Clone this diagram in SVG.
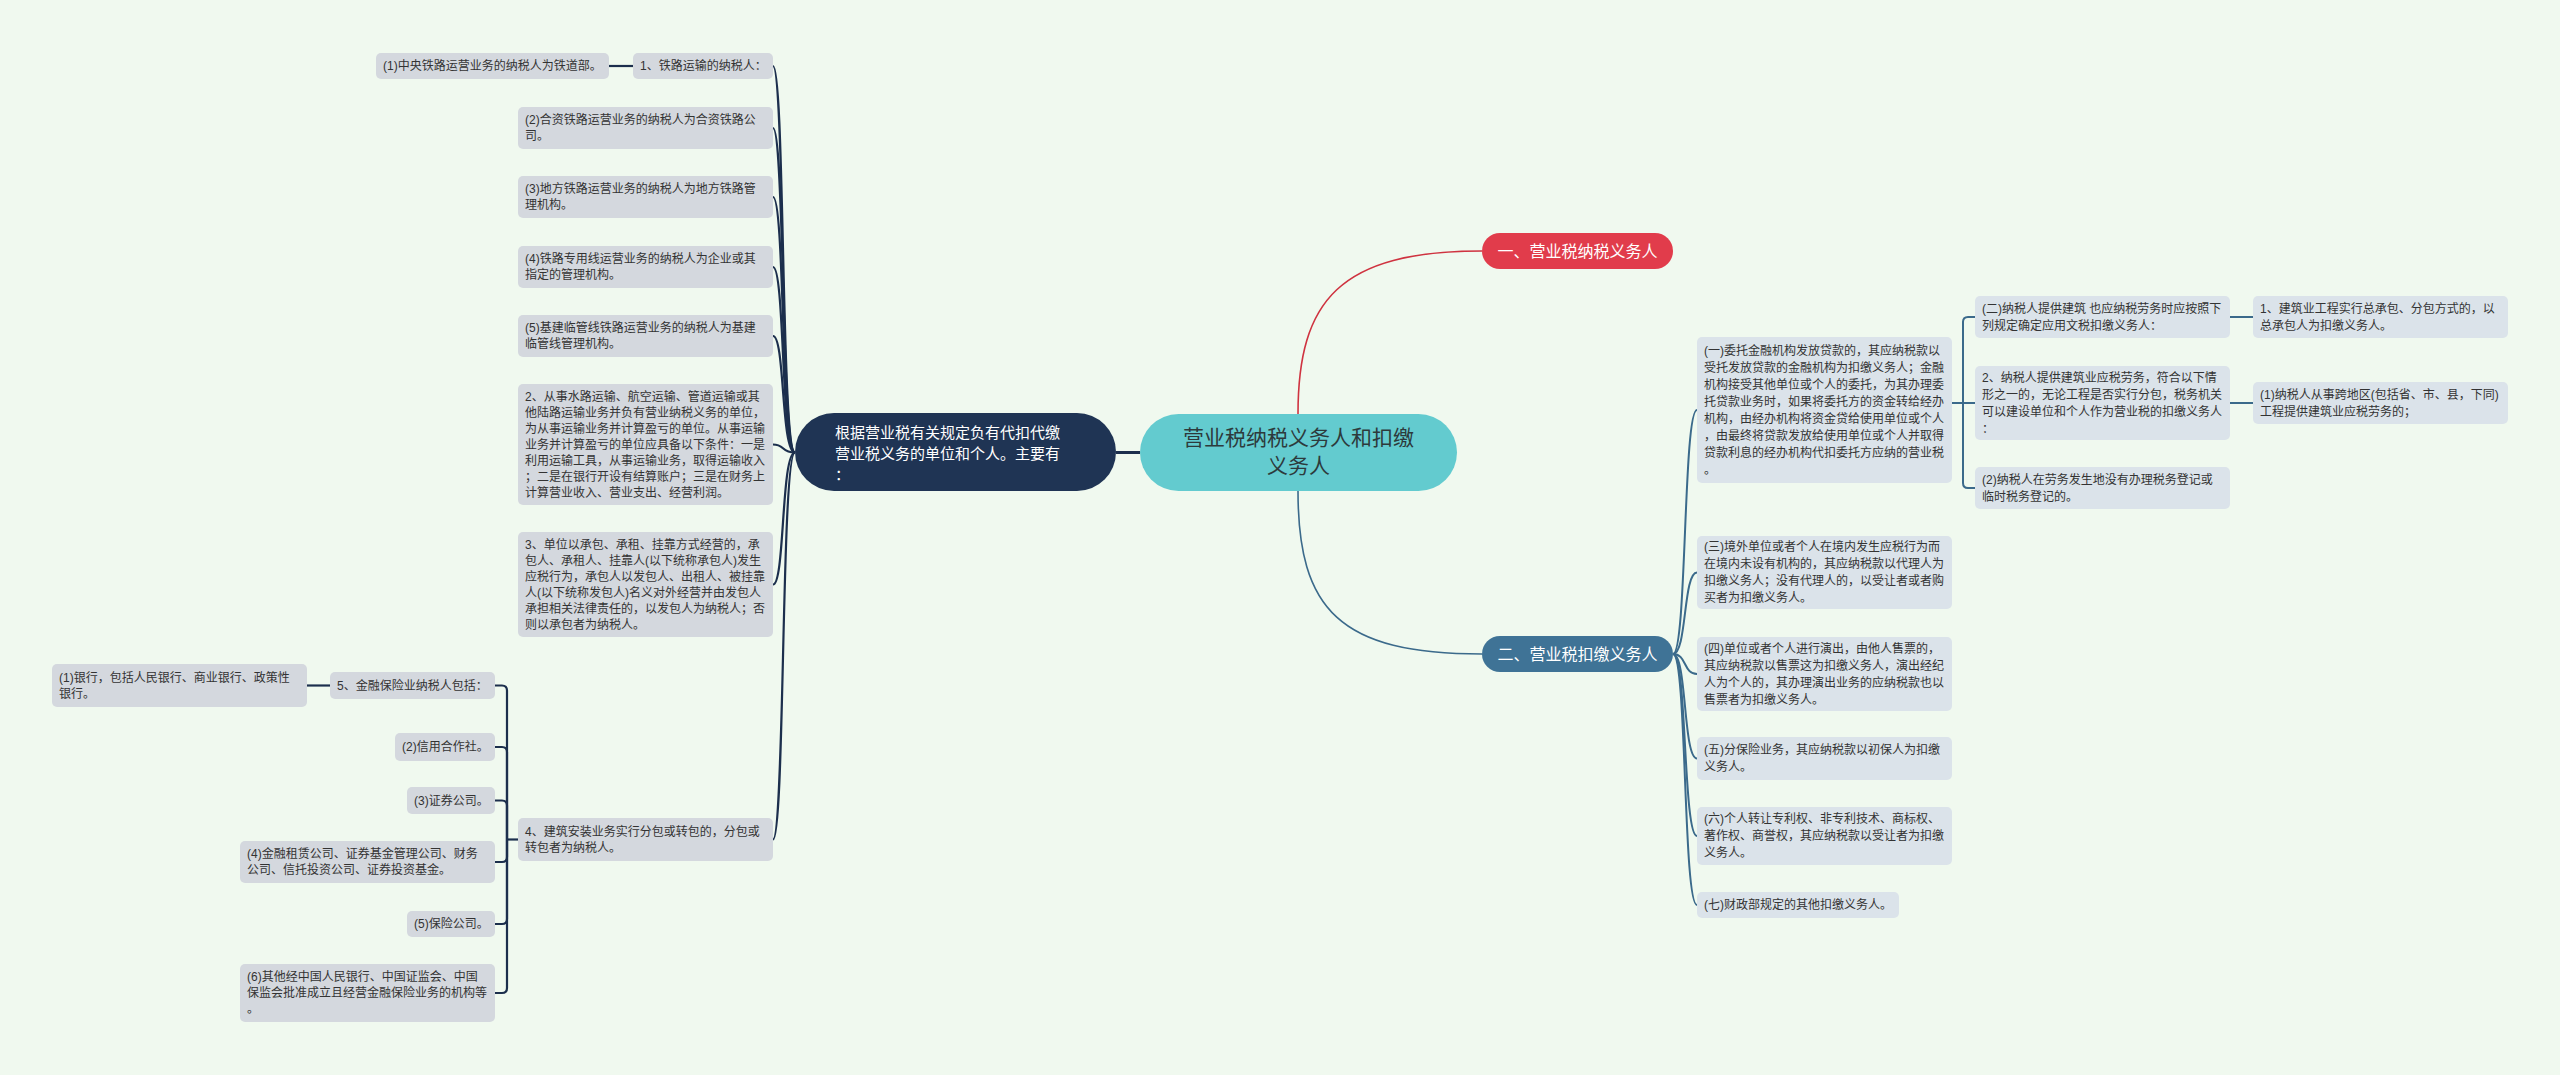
<svg xmlns="http://www.w3.org/2000/svg" width="2560" height="1075" viewBox="0 0 2560 1075">
<style>
text{font-family:"Liberation Sans","Noto Sans CJK SC",sans-serif;}
.t{font-size:12px;fill:#333333;}
.lb{fill:#d4d8de;}
.rb{fill:#dbe3ea;}
.cl{fill:none;stroke:#1c2f4d;stroke-width:2.2;}
.cb{fill:none;stroke:#3b6a8b;stroke-width:2;}
.dark{font-size:15px;fill:#ffffff;}
.lvl1{font-size:16px;fill:#ffffff;text-anchor:middle;}
.root{font-size:21px;fill:#2d3a3c;text-anchor:middle;}
</style>
<rect x="0" y="0" width="2560" height="1075" fill="#f0f9ef"/>

<g id="connectors">
  <path class="cl" d="M1116 452.5 H1140" style="stroke-width:3"/>
  <path d="M1298 414 C1298 300 1340 251 1482 251" fill="none" stroke="#cf3340" stroke-width="1.6"/>
  <path d="M1298 491 C1298 610 1340 654 1482 654" fill="none" stroke="#3b6a8b" stroke-width="1.6"/>
  <path class="cl" d="M795 452.5 C781 452.5 785 66 773 66"/>
  <path class="cl" d="M795 452.5 C781 452.5 785 128 773 128"/>
  <path class="cl" d="M795 452.5 C781 452.5 785 197 773 197"/>
  <path class="cl" d="M795 452.5 C781 452.5 785 267 773 267"/>
  <path class="cl" d="M795 452.5 C781 452.5 785 336 773 336"/>
  <path class="cl" d="M795 452.5 C781 452.5 785 444.5 773 444.5"/>
  <path class="cl" d="M795 452.5 C781 452.5 785 584.5 773 584.5"/>
  <path class="cl" d="M795 452.5 C781 452.5 785 839.5 773 839.5"/>
  <path class="cl" d="M633 66 H609"/>
  <path class="cl" d="M518 839.5 H507"/>
  <path class="cl" d="M495 685.5 H502 Q507 685.5 507 690.5 V839.5"/>
  <path class="cl" d="M495 747 H502 Q507 747 507 752 V839.5"/>
  <path class="cl" d="M495 800.5 H502 Q507 800.5 507 805.5 V839.5"/>
  <path class="cl" d="M495 862 H502 Q507 862 507 857 V839.5"/>
  <path class="cl" d="M495 924 H502 Q507 924 507 919 V839.5"/>
  <path class="cl" d="M495 993 H502 Q507 993 507 988 V839.5"/>
  <path class="cl" d="M330 685.5 H307"/>
  <path class="cb" d="M1673 654 C1687 654 1683 410 1697 410"/>
  <path class="cb" d="M1673 654 C1687 654 1683 572.5 1697 572.5"/>
  <path class="cb" d="M1673 654 C1687 654 1683 674 1697 674"/>
  <path class="cb" d="M1673 654 C1687 654 1683 758.5 1697 758.5"/>
  <path class="cb" d="M1673 654 C1687 654 1683 836 1697 836"/>
  <path class="cb" d="M1673 654 C1687 654 1683 905 1697 905"/>
  <path class="cb" d="M1952 403 H1975"/>
  <path class="cb" d="M1963 403 V322 Q1963 317 1968 317 H1975"/>
  <path class="cb" d="M1963 403 V483 Q1963 488 1968 488 H1975"/>
  <path class="cb" d="M2230 317 H2253"/>
  <path class="cb" d="M2230 403 H2253"/>
</g>

<g id="root">
  <rect x="1140" y="414" width="317" height="77" rx="38.5" fill="#63cbcf"/>
  <text class="root" x="1298.5" y="445">营业税纳税义务人和扣缴</text>
  <text class="root" x="1298.5" y="473">义务人</text>
</g>

<g id="main-left">
  <rect x="795" y="413" width="321" height="78" rx="39" fill="#1f3454"/>
  <text class="dark" x="835" y="438">根据营业税有关规定负有代扣代缴</text>
  <text class="dark" x="835" y="459">营业税义务的单位和个人。主要有</text>
  <text class="dark" x="835" y="480">：</text>
</g>

<g id="red-1">
  <rect x="1482" y="233" width="191" height="36" rx="18" fill="#e13c4b"/>
  <text class="lvl1" x="1577.5" y="256.5">一、营业税纳税义务人</text>
</g>

<g id="blue-2">
  <rect x="1482" y="636" width="191" height="36" rx="18" fill="#3f7396"/>
  <text class="lvl1" x="1577.5" y="659.5">二、营业税扣缴义务人</text>
</g>

<g id="l-1">
  <rect class="lb" x="633" y="53" width="140" height="26" rx="5"/>
  <text class="t" x="640" y="70.3">1、铁路运输的纳税人：</text>
</g>
<g id="l-1-1">
  <rect class="lb" x="376" y="53" width="233" height="26" rx="5"/>
  <text class="t" x="383" y="70.3">(1)中央铁路运营业务的纳税人为铁道部。</text>
</g>
<g id="l-2">
  <rect class="lb" x="518" y="107" width="255" height="42" rx="5"/>
  <text class="t" x="525" y="124.3">(2)合资铁路运营业务的纳税人为合资铁路公</text>
  <text class="t" x="525" y="140.3">司。</text>
</g>
<g id="l-3">
  <rect class="lb" x="518" y="176" width="255" height="42" rx="5"/>
  <text class="t" x="525" y="193.3">(3)地方铁路运营业务的纳税人为地方铁路管</text>
  <text class="t" x="525" y="209.3">理机构。</text>
</g>
<g id="l-4">
  <rect class="lb" x="518" y="246" width="255" height="42" rx="5"/>
  <text class="t" x="525" y="263.3">(4)铁路专用线运营业务的纳税人为企业或其</text>
  <text class="t" x="525" y="279.3">指定的管理机构。</text>
</g>
<g id="l-5">
  <rect class="lb" x="518" y="315" width="255" height="42" rx="5"/>
  <text class="t" x="525" y="332.3">(5)基建临管线铁路运营业务的纳税人为基建</text>
  <text class="t" x="525" y="348.3">临管线管理机构。</text>
</g>
<g id="l-6">
  <rect class="lb" x="518" y="384" width="255" height="121" rx="5"/>
  <text class="t" x="525" y="400.8">2、从事水路运输、航空运输、管道运输或其</text>
  <text class="t" x="525" y="416.8">他陆路运输业务并负有营业纳税义务的单位，</text>
  <text class="t" x="525" y="432.8">为从事运输业务并计算盈亏的单位。从事运输</text>
  <text class="t" x="525" y="448.8">业务并计算盈亏的单位应具备以下条件：一是</text>
  <text class="t" x="525" y="464.8">利用运输工具，从事运输业务，取得运输收入</text>
  <text class="t" x="525" y="480.8">；二是在银行开设有结算账户；三是在财务上</text>
  <text class="t" x="525" y="496.8">计算营业收入、营业支出、经营利润。</text>
</g>
<g id="l-7">
  <rect class="lb" x="518" y="532" width="255" height="105" rx="5"/>
  <text class="t" x="525" y="548.8">3、单位以承包、承租、挂靠方式经营的，承</text>
  <text class="t" x="525" y="564.8">包人、承租人、挂靠人(以下统称承包人)发生</text>
  <text class="t" x="525" y="580.8">应税行为，承包人以发包人、出租人、被挂靠</text>
  <text class="t" x="525" y="596.8">人(以下统称发包人)名义对外经营并由发包人</text>
  <text class="t" x="525" y="612.8">承担相关法律责任的，以发包人为纳税人；否</text>
  <text class="t" x="525" y="628.8">则以承包者为纳税人。</text>
</g>
<g id="l-8">
  <rect class="lb" x="518" y="818" width="255" height="43" rx="5"/>
  <text class="t" x="525" y="835.8">4、建筑安装业务实行分包或转包的，分包或</text>
  <text class="t" x="525" y="851.8">转包者为纳税人。</text>
</g>
<g id="l-8-1">
  <rect class="lb" x="330" y="672" width="165" height="27" rx="5"/>
  <text class="t" x="337" y="689.8">5、金融保险业纳税人包括：</text>
</g>
<g id="l-8-1-1">
  <rect class="lb" x="52" y="664" width="255" height="43" rx="5"/>
  <text class="t" x="59" y="681.8">(1)银行，包括人民银行、商业银行、政策性</text>
  <text class="t" x="59" y="697.8">银行。</text>
</g>
<g id="l-8-2">
  <rect class="lb" x="395" y="733" width="100" height="28" rx="5"/>
  <text class="t" x="402" y="751.3">(2)信用合作社。</text>
</g>
<g id="l-8-3">
  <rect class="lb" x="407" y="787" width="88" height="27" rx="5"/>
  <text class="t" x="414" y="804.8">(3)证券公司。</text>
</g>
<g id="l-8-4">
  <rect class="lb" x="240" y="841" width="255" height="42" rx="5"/>
  <text class="t" x="247" y="858.3">(4)金融租赁公司、证券基金管理公司、财务</text>
  <text class="t" x="247" y="874.3">公司、信托投资公司、证券投资基金。</text>
</g>
<g id="l-8-5">
  <rect class="lb" x="407" y="911" width="88" height="26" rx="5"/>
  <text class="t" x="414" y="928.3">(5)保险公司。</text>
</g>
<g id="l-8-6">
  <rect class="lb" x="240" y="964" width="255" height="58" rx="5"/>
  <text class="t" x="247" y="981.3">(6)其他经中国人民银行、中国证监会、中国</text>
  <text class="t" x="247" y="997.3">保监会批准成立且经营金融保险业务的机构等</text>
  <text class="t" x="247" y="1013.3">。</text>
</g>

<g id="r-1">
  <rect class="rb" x="1697" y="337" width="255" height="146" rx="5"/>
  <text class="t" x="1704" y="354.8">(一)委托金融机构发放贷款的，其应纳税款以</text>
  <text class="t" x="1704" y="371.8">受托发放贷款的金融机构为扣缴义务人；金融</text>
  <text class="t" x="1704" y="388.8">机构接受其他单位或个人的委托，为其办理委</text>
  <text class="t" x="1704" y="405.8">托贷款业务时，如果将委托方的资金转给经办</text>
  <text class="t" x="1704" y="422.8">机构，由经办机构将资金贷给使用单位或个人</text>
  <text class="t" x="1704" y="439.8">，由最终将贷款发放给使用单位或个人并取得</text>
  <text class="t" x="1704" y="456.8">贷款利息的经办机构代扣委托方应纳的营业税</text>
  <text class="t" x="1704" y="473.8">。</text>
</g>
<g id="r-1-1">
  <rect class="rb" x="1975" y="296" width="255" height="42" rx="5"/>
  <text class="t" x="1982" y="312.8">(二)纳税人提供建筑 也应纳税劳务时应按照下</text>
  <text class="t" x="1982" y="329.8">列规定确定应用文税扣缴义务人：</text>
</g>
<g id="r-1-1-1">
  <rect class="rb" x="2253" y="296" width="255" height="42" rx="5"/>
  <text class="t" x="2260" y="312.8">1、建筑业工程实行总承包、分包方式的，以</text>
  <text class="t" x="2260" y="329.8">总承包人为扣缴义务人。</text>
</g>
<g id="r-1-2">
  <rect class="rb" x="1975" y="366" width="255" height="74" rx="5"/>
  <text class="t" x="1982" y="381.8">2、纳税人提供建筑业应税劳务，符合以下情</text>
  <text class="t" x="1982" y="398.8">形之一的，无论工程是否实行分包，税务机关</text>
  <text class="t" x="1982" y="415.8">可以建设单位和个人作为营业税的扣缴义务人</text>
  <text class="t" x="1982" y="432.8">：</text>
</g>
<g id="r-1-2-1">
  <rect class="rb" x="2253" y="382" width="255" height="42" rx="5"/>
  <text class="t" x="2260" y="398.8">(1)纳税人从事跨地区(包括省、市、县，下同)</text>
  <text class="t" x="2260" y="415.8">工程提供建筑业应税劳务的；</text>
</g>
<g id="r-1-3">
  <rect class="rb" x="1975" y="467" width="255" height="42" rx="5"/>
  <text class="t" x="1982" y="483.8">(2)纳税人在劳务发生地没有办理税务登记或</text>
  <text class="t" x="1982" y="500.8">临时税务登记的。</text>
</g>
<g id="r-3">
  <rect class="rb" x="1697" y="536" width="255" height="73" rx="5"/>
  <text class="t" x="1704" y="551.3">(三)境外单位或者个人在境内发生应税行为而</text>
  <text class="t" x="1704" y="568.3">在境内未设有机构的，其应纳税款以代理人为</text>
  <text class="t" x="1704" y="585.3">扣缴义务人；没有代理人的，以受让者或者购</text>
  <text class="t" x="1704" y="602.3">买者为扣缴义务人。</text>
</g>
<g id="r-4">
  <rect class="rb" x="1697" y="637" width="255" height="74" rx="5"/>
  <text class="t" x="1704" y="652.8">(四)单位或者个人进行演出，由他人售票的，</text>
  <text class="t" x="1704" y="669.8">其应纳税款以售票这为扣缴义务人，演出经纪</text>
  <text class="t" x="1704" y="686.8">人为个人的，其办理演出业务的应纳税款也以</text>
  <text class="t" x="1704" y="703.8">售票者为扣缴义务人。</text>
</g>
<g id="r-5">
  <rect class="rb" x="1697" y="737" width="255" height="43" rx="5"/>
  <text class="t" x="1704" y="754.3">(五)分保险业务，其应纳税款以初保人为扣缴</text>
  <text class="t" x="1704" y="771.3">义务人。</text>
</g>
<g id="r-6">
  <rect class="rb" x="1697" y="807" width="255" height="58" rx="5"/>
  <text class="t" x="1704" y="823.3">(六)个人转让专利权、非专利技术、商标权、</text>
  <text class="t" x="1704" y="840.3">著作权、商誉权，其应纳税款以受让者为扣缴</text>
  <text class="t" x="1704" y="857.3">义务人。</text>
</g>
<g id="r-7">
  <rect class="rb" x="1697" y="892" width="202" height="26" rx="5"/>
  <text class="t" x="1704" y="909.3">(七)财政部规定的其他扣缴义务人。</text>
</g>
</svg>
